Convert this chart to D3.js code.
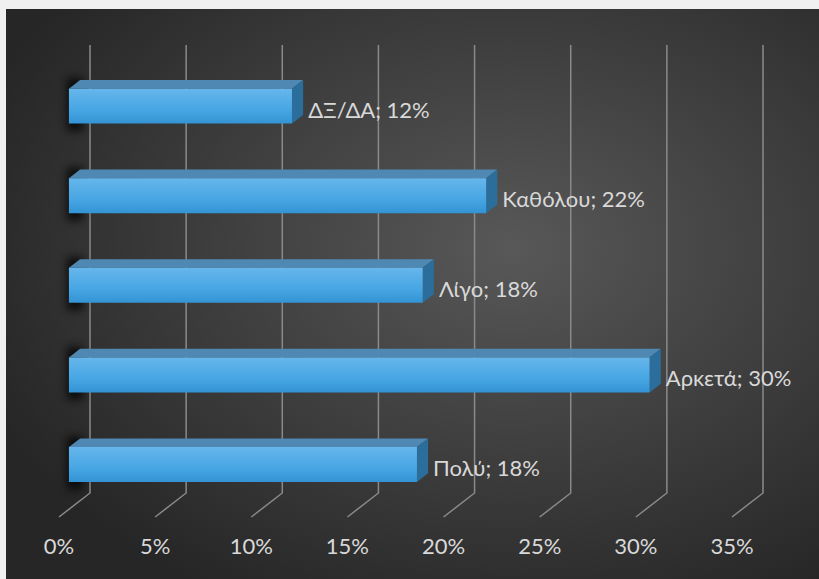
<!DOCTYPE html>
<html>
<head>
<meta charset="utf-8">
<script src="https://cdn.jsdelivr.net/npm/d3@7"></script>
<style>
  body { margin: 0; background: #f0f0f0; }
  #chart { width: 819px; height: 579px; }
  text { font-family: Lato, "Open Sans", sans-serif; fill: #d9d9d9; }
</style>
</head>
<body>
<div id="chart"></div>
<script>
// categories from top to bottom, as drawn
const categories = ["ΔΞ/ΔΑ", "Καθόλου", "Λίγο", "Αρκετά", "Πολύ"];
const values = [0.116, 0.217, 0.184, 0.302, 0.181];
const ticks = [0, 0.05, 0.10, 0.15, 0.20, 0.25, 0.30, 0.35];

const width = 819;
const height = 579;

const svg = d3.select("#chart")
  .append("svg")
  .attr("width", width)
  .attr("height", height);

const defs = svg.append("defs");

// dark background, lighter towards the middle
const bg = defs.append("radialGradient")
  .attr("id", "bg")
  .attr("cx", "62%").attr("cy", "42%").attr("r", "70%");
bg.append("stop").attr("offset", "0%").attr("stop-color", "#585858");
bg.append("stop").attr("offset", "100%").attr("stop-color", "#262626");

// front face of the bars
const front = defs.append("linearGradient")
  .attr("id", "front")
  .attr("x1", 0).attr("y1", 0).attr("x2", 0).attr("y2", 1);
front.append("stop").attr("offset", "0%").attr("stop-color", "#66b6ec");
front.append("stop").attr("offset", "60%").attr("stop-color", "#47a6e3");
front.append("stop").attr("offset", "100%").attr("stop-color", "#3493d4");

defs.append("filter")
  .attr("id", "blur")
  .attr("x", "-100%").attr("y", "-100%").attr("width", "300%").attr("height", "300%")
  .append("feGaussianBlur")
  .attr("stdDeviation", 4);

svg.append("rect")
  .attr("x", 6)
  .attr("y", 9)
  .attr("width", width - 6)
  .attr("height", height - 9)
  .attr("fill", "url(#bg)");

// value scale on the front plane, category scale in "world" y
const xScale = d3.scaleLinear()
  .domain([0, 0.35])
  .range([59, 732]);

const yScale = d3.scaleBand()
  .domain(categories)
  .range([69, 517])
  .paddingInner(0.61)
  .paddingOuter(0.305);

// oblique depth: z = 0 front, z = 1 back wall
const depthX = 31;
const depthY = -24;
const zFront = 0.32;
const zBack = 0.68;

function project(v, y, z) {
  return [xScale(v) + depthX * z, y + depthY * z];
}

function poly(points) {
  return "M" + points.map(function(p) { return p.join(","); }).join("L") + "Z";
}

// gridlines: back wall then floor
svg.selectAll(".grid")
  .data(ticks)
  .enter()
  .append("path")
  .attr("class", "grid")
  .attr("d", function(d) {
    const a = project(d, yScale.range()[0], 1);
    const b = project(d, yScale.range()[1], 1);
    const c = project(d, yScale.range()[1], 0);
    return "M" + a + "L" + b + "L" + c;
  })
  .attr("fill", "none")
  .attr("stroke", "#8a8a8a")
  .attr("stroke-width", 1.5);

const data = categories.map(function(c, i) {
  return { name: c, value: values[i] };
});

const bars = svg.selectAll(".bar")
  .data(data)
  .enter()
  .append("g")
  .attr("class", "bar");

// soft shadow behind the left end of each bar
bars.append("rect")
  .attr("x", function(d) { return project(0, 0, zFront)[0] - 2; })
  .attr("y", function(d) { return yScale(d.name) + depthY * zBack - 2; })
  .attr("width", 16)
  .attr("height", yScale.bandwidth() + 18)
  .attr("fill", "#000")
  .attr("opacity", 0.75)
  .attr("filter", "url(#blur)");

// top face
bars.append("path")
  .attr("d", function(d) {
    const y0 = yScale(d.name);
    return poly([project(0, y0, zFront), project(d.value, y0, zFront),
      project(d.value, y0, zBack), project(0, y0, zBack)]);
  })
  .attr("fill", "#4f88b3");

// right side face
bars.append("path")
  .attr("d", function(d) {
    const y0 = yScale(d.name);
    const y1 = y0 + yScale.bandwidth();
    return poly([project(d.value, y0, zFront), project(d.value, y0, zBack),
      project(d.value, y1, zBack), project(d.value, y1, zFront)]);
  })
  .attr("fill", "#2b6d9b");

// front face
bars.append("path")
  .attr("d", function(d) {
    const y0 = yScale(d.name);
    const y1 = y0 + yScale.bandwidth();
    return poly([project(0, y0, zFront), project(d.value, y0, zFront),
      project(d.value, y1, zFront), project(0, y1, zFront)]);
  })
  .attr("fill", "url(#front)");

// data labels
bars.append("text")
  .attr("x", function(d) { return project(d.value, 0, zBack)[0] + 5; })
  .attr("y", function(d) {
    return yScale(d.name) + yScale.bandwidth() / 2 + depthY * zFront + 3;
  })
  .attr("dominant-baseline", "central")
  .attr("font-size", 22)
  .text(function(d) { return d.name + "; " + d3.format(".0%")(d.value); });

// axis labels under the floor
svg.selectAll(".tick-label")
  .data(ticks)
  .enter()
  .append("text")
  .attr("class", "tick-label")
  .attr("x", function(d) { return xScale(d); })
  .attr("y", 554)
  .attr("text-anchor", "middle")
  .attr("font-size", 22)
  .text(function(d) { return d3.format(".0%")(d); });
</script>
</body>
</html>
